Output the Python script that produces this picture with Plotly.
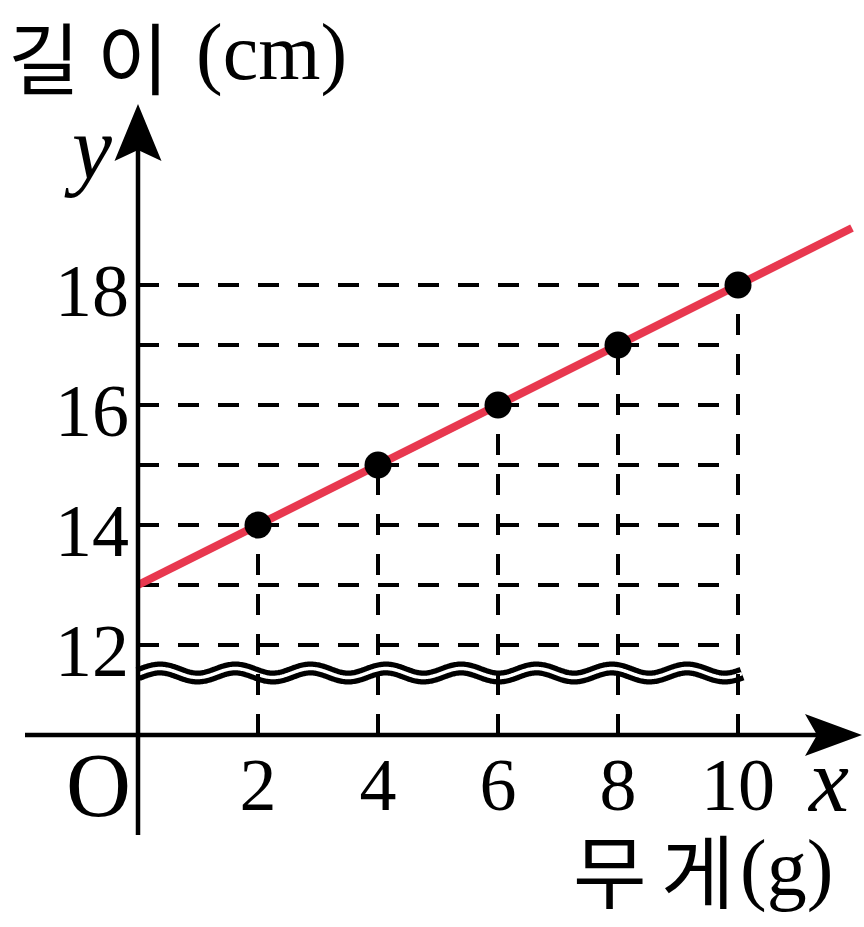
import numpy as np
import plotly.graph_objects as go

# ---- data ----
weights = [2, 4, 6, 8, 10]          # 무게 (g)
lengths = [14, 15, 16, 17, 18]      # 길이 (cm)
line_x = [0, 11.9]                  # red line ends
line_y = [13, 18.95]
h_levels = [12, 13, 14, 15, 16, 17, 18]
x_ticks = [2, 4, 6, 8, 10]
x_tick_text = ["2", "4", "6", "8", "10"]
y_ticks = [12, 14, 16, 18]
y_tick_text = ["12", "14", "16", "18"]

# ---- layout geometry (pixels) ----
W, H = 864, 927
SX, SY = 60.0, 60.0        # px per unit
OX = 138                   # pixel x of x=0
PY12 = 645                 # pixel y of y=12
XR = [-OX / SX, (W - OX) / SX]
YR = [12 - (H - PY12) / SY, 12 + PY12 / SY]


def dx(p):
    return p / SX


def dy(p):
    return p / SY


AXIS_Y = 12 - dy(735 - PY12)        # where the (broken) x-axis is drawn
Y_BOTTOM = 12 - dy(835 - PY12)
Y_TIP = 12 + dy(PY12 - 104)
X_LEFT = dx(25 - OX)
X_TIP = dx(862 - OX)

BLACK = "#000000"
RED = "#E8384F"
SERIF = "Liberation Serif"
KR = "Noto Sans CJK KR"

fig = go.Figure()

# dashed guide lines
hx, hy = [], []
for lv in h_levels:
    hx += [0, max(weights), None]
    hy += [lv, lv, None]
vx, vy = [], []
for w, l in zip(weights, lengths):
    vx += [w, w, None]
    vy += [AXIS_Y, l, None]

# wavy break symbol (decoration)
wx = np.linspace(0, dx(742 - OX), 600)
wy = (12 - dy(673 - PY12)) + dy(4.5) * np.cos(2 * np.pi * (wx - dx(22)) / dx(75.3))
fig.add_trace(go.Scatter(x=wx, y=wy, mode="lines",
                         line=dict(color=BLACK, width=14, simplify=False),
                         hoverinfo="skip", showlegend=False))
fig.add_trace(go.Scatter(x=wx, y=wy, mode="lines",
                         line=dict(color="white", width=3.5, simplify=False),
                         hoverinfo="skip", showlegend=False))

fig.add_trace(go.Scatter(x=hx, y=hy, mode="lines",
                         line=dict(color=BLACK, width=4, dash="21px,19px"),
                         hoverinfo="skip", showlegend=False))
fig.add_trace(go.Scatter(x=vx, y=vy, mode="lines",
                         line=dict(color=BLACK, width=4, dash="21px,19px"),
                         hoverinfo="skip", showlegend=False))

# red line
fig.add_trace(go.Scatter(x=line_x, y=line_y, mode="lines",
                         line=dict(color=RED, width=8), showlegend=False))
# points
fig.add_trace(go.Scatter(x=weights, y=lengths, mode="markers",
                         marker=dict(color=BLACK, size=27, line=dict(width=0)),
                         showlegend=False))

# axes lines
shapes = [
    dict(type="line", xref="x", yref="y", x0=0, x1=0, y0=Y_BOTTOM, y1=Y_TIP - dy(46),
         line=dict(color=BLACK, width=4.5)),
    dict(type="line", xref="x", yref="y", x0=X_LEFT, x1=X_TIP - dx(45), y0=AXIS_Y, y1=AXIS_Y,
         line=dict(color=BLACK, width=4.5)),
]
# arrow heads
ya = (f"M 0 {Y_TIP} L {-dx(23.5)} {Y_TIP - dy(57)} L 0 {Y_TIP - dy(46)} "
      f"L {dx(23.5)} {Y_TIP - dy(57)} Z")
xa = (f"M {X_TIP} {AXIS_Y} L {X_TIP - dx(57)} {AXIS_Y + dy(21)} L {X_TIP - dx(45)} {AXIS_Y} "
      f"L {X_TIP - dx(57)} {AXIS_Y - dy(21)} Z")
for p in (ya, xa):
    shapes.append(dict(type="path", xref="x", yref="y", path=p,
                       fillcolor=BLACK, line=dict(width=0)))


def ann(text, px, py, size, family, xanchor="center"):
    return dict(text=text, xref="paper", yref="paper",
                x=px / W, y=1 - py / H, xanchor=xanchor, yanchor="middle",
                showarrow=False, font=dict(size=size, family=family, color=BLACK))


annotations = [
    ann("길", 44, 55, 78, KR),
    ann("이", 133, 55, 78, KR),
    ann("(cm)", 194, 52, 80, SERIF, xanchor="left"),
    ann("<i>y</i>", 88, 148, 90, SERIF),
    ann("O", 98, 785, 90, SERIF),
    ann("<i>x</i>", 828, 780, 90, SERIF),
    ann("무", 610, 867, 80, KR),
    ann("게", 698, 867, 80, KR),
    ann("(g)", 738, 868, 80, SERIF, xanchor="left"),
]

fig.update_layout(
    width=W, height=H,
    margin=dict(l=0, r=0, t=0, b=0, pad=0, autoexpand=False),
    paper_bgcolor="white", plot_bgcolor="white",
    showlegend=False,
    shapes=shapes,
    annotations=annotations,
    xaxis=dict(range=XR, showgrid=False, zeroline=False, showline=False,
               automargin=False,
               anchor="free", position=1 - 735 / H,
               tickvals=x_ticks, ticktext=x_tick_text, ticks="",
               ticklabelstandoff=0,
               tickfont=dict(size=74, family=SERIF, color=BLACK)),
    yaxis=dict(range=YR, showgrid=False, zeroline=False, showline=False,
               automargin=False,
               anchor="free", position=OX / W,
               tickvals=y_ticks, ticktext=y_tick_text, ticks="",
               ticklabelstandoff=9, ticklabelshift=5,
               tickfont=dict(size=74, family=SERIF, color=BLACK)),
)

fig.write_html("out.html",
               config={"displayModeBar": False},
               post_script="document.body.style.margin='0';document.body.style.overflow='hidden';")
